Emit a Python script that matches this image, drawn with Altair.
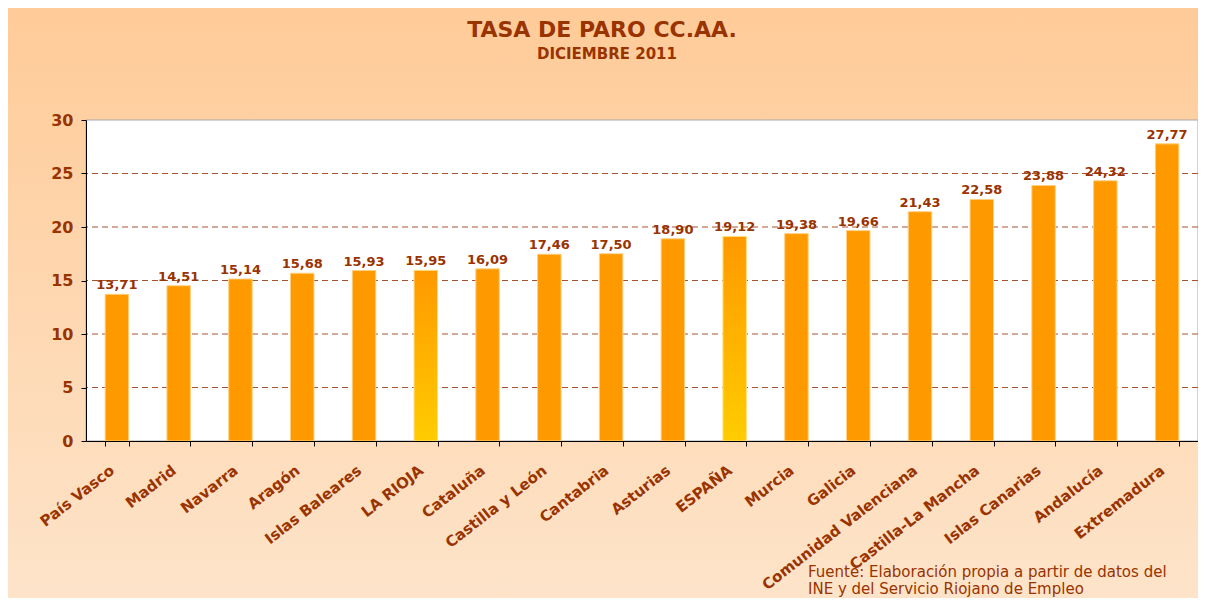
import altair as alt
import pandas as pd

regions = ["País Vasco", "Madrid", "Navarra", "Aragón", "Islas Baleares", "LA RIOJA",
           "Cataluña", "Castilla y León", "Cantabria", "Asturias", "ESPAÑA", "Murcia",
           "Galicia", "Comunidad Valenciana", "Castilla-La Mancha", "Islas Canarias",
           "Andalucía", "Extremadura"]
values = [13.71, 14.51, 15.14, 15.68, 15.93, 15.95, 16.09, 17.46, 17.50, 18.90,
          19.12, 19.38, 19.66, 21.43, 22.58, 23.88, 24.32, 27.77]
highlighted = ["LA RIOJA", "ESPAÑA"]
grid_values = [5, 10, 15, 20, 25]
y_ticks = [0, 5, 10, 15, 20, 25, 30]
title_text = "TASA DE PARO CC.AA."
subtitle_text = "DICIEMBRE 2011"
source_lines = ["Fuente: Elaboración propia a partir de datos del",
                "INE y del Servicio Riojano de Empleo"]

FONT = "DejaVu Sans"
BROWN = "#993300"
W, H = 1112, 321
PL, PT, PB = 78, 112, 157

df = pd.DataFrame({"region": regions, "value": values})
df["hl"] = df["region"].isin(highlighted)
df["label"] = df["value"].map(lambda v: f"{v:.2f}".replace(".", ","))

xscale = alt.Scale(domain=regions, paddingInner=0.62, paddingOuter=0.31)
yscale = alt.Scale(domain=[0, 30], nice=False, zero=True)

one = alt.Data(values=[{"k": 1}])

y_axis = alt.Axis(values=y_ticks, grid=False, labelFont=FONT, labelFontSize=16,
                  labelFontWeight="bold", labelColor=BROWN, labelPadding=8,
                  tickColor="black", tickSize=5, domainColor="black", zindex=2, title=None)
x_axis = alt.Axis(labelAngle=-38, labelFont=FONT, labelFontSize=15,
                  labelFontWeight="bold", labelColor=BROWN, labelPadding=22, labelOffset=-5,
                  labelAlign="right", labelBaseline="middle",
                  tickBand="extent", tickColor="black", tickSize=5,
                  domainColor="black", labelOverlap=False, labelLimit=300,
                  zindex=2, title=None)

bg = alt.Chart(one).mark_rect(
    color=alt.LinearGradient(gradient="linear", x1=0, x2=0, y1=0, y2=1,
                             stops=[alt.GradientStop(color="#FFCB98", offset=0),
                                    alt.GradientStop(color="#FDE4CA", offset=1)])
).encode(x=alt.value(-PL), x2=alt.value(W + 10), y=alt.value(-PT), y2=alt.value(H + PB + 10))

plotbg = alt.Chart(one).mark_rect(fill="white", stroke="#A8A8A8", strokeWidth=1).encode(
    x=alt.value(0), x2=alt.value(W), y=alt.value(0), y2=alt.value(H))

grid = alt.Chart(pd.DataFrame({"g": grid_values})).mark_rule(
    color="#A9532E", strokeDash=[6, 4], strokeWidth=1
).encode(y=alt.Y("g:Q", scale=yscale, axis=y_axis))

base = alt.Chart(df)

bars = base.transform_filter("!datum.hl").mark_bar(
    color="#FF9900", stroke="#FFD080", strokeWidth=1
).encode(x=alt.X("region:N", scale=xscale, sort=regions, axis=x_axis),
         y=alt.Y("value:Q", scale=yscale, axis=y_axis))

bars_hl = base.transform_filter("datum.hl").mark_bar(
    color=alt.LinearGradient(gradient="linear", x1=0, x2=0, y1=0, y2=1,
                             stops=[alt.GradientStop(color="#FF9900", offset=0),
                                    alt.GradientStop(color="#FFCC00", offset=1)]),
    stroke="#FFE080", strokeWidth=1
).encode(x=alt.X("region:N", scale=xscale, sort=regions, axis=x_axis),
         y=alt.Y("value:Q", scale=yscale, axis=y_axis))

labels = base.mark_text(dy=-9, font=FONT, fontSize=13, fontWeight="bold", color=BROWN).encode(
    x=alt.X("region:N", scale=xscale, sort=regions, axis=x_axis),
    y=alt.Y("value:Q", scale=yscale, axis=y_axis),
    text="label:N")

title = alt.Chart(one).mark_text(
    align="center", baseline="alphabetic", font=FONT, fontSize=22, fontWeight="bold", color=BROWN
).encode(x=alt.value(516), y=alt.value(-83), text=alt.value(title_text))

subtitle = alt.Chart(one).mark_text(
    align="center", baseline="alphabetic", font=FONT, fontSize=15, fontWeight="bold", color=BROWN
).encode(x=alt.value(521), y=alt.value(-61), text=alt.value(subtitle_text))

source = alt.Chart(one).mark_text(
    align="left", baseline="alphabetic", font=FONT, fontSize=15, lineHeight=17, color=BROWN
).encode(x=alt.value(722), y=alt.value(457), text=alt.value(source_lines))

chart = alt.layer(bg, plotbg, grid, bars, bars_hl, labels, title, subtitle, source).properties(
    width=W, height=H,
    autosize=alt.AutoSizeParams(type="none"),
    padding={"left": PL, "top": PT, "right": 0, "bottom": PB},
).configure_view(stroke=None).configure(background="#FDE4CA")

chart.save("out.html", embed_options={"renderer": "svg", "actions": False})
